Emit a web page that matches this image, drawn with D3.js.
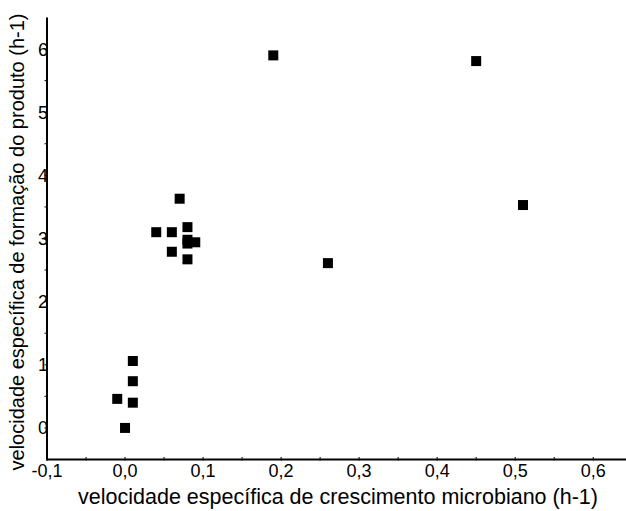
<!DOCTYPE html>
<html>
<head>
<meta charset="utf-8">
<script src="https://cdn.jsdelivr.net/npm/d3@7"></script>
<style>
  html, body { margin: 0; padding: 0; background: #fff; }
  svg { display: block; }
  text { font-family: "Liberation Sans", Arial, Helvetica, sans-serif; fill: #000; }
</style>
</head>
<body>
<svg id="chart" width="626" height="511"></svg>
<script>
// Specific growth rate (h-1) vs specific product formation rate (h-1)
const growthRate = [0.19, 0.45, 0.51, 0.26, 0.07, 0.04, 0.06, 0.08, 0.08, 0.09, 0.08, 0.06, 0.08, 0.01, 0.01, 0.01, -0.01, 0.00];
const productRate = [5.90, 5.81, 3.53, 2.61, 3.63, 3.10, 3.10, 3.18, 2.98, 2.94, 2.92, 2.79, 2.67, 1.06, 0.74, 0.40, 0.46, 0.00];

const xTicks = [-0.1, 0.0, 0.1, 0.2, 0.3, 0.4, 0.5, 0.6];
const xMinorTicks = [-0.05, 0.05, 0.15, 0.25, 0.35, 0.45, 0.55];
const yTicks = [0, 1, 2, 3, 4, 5, 6];
const yMinorTicks = [0.5, 1.5, 2.5, 3.5, 4.5, 5.5];

const xTitle = "velocidade específica de crescimento microbiano (h-1)";
const yTitle = "velocidade específica de formação do produto (h-1)";

const svg = d3.select("#chart");
const fmt = v => d3.format(".1f")(v).replace(".", ",").replace("−", "-");

const x = d3.scaleLinear().domain([-0.1, 0.642]).range([47, 626]);
const y = d3.scaleLinear().domain([-0.5, 6.5]).range([459.5, 17.5]);

const x0 = x.range()[0];
const y0 = y.range()[0];

// Small tick marks (major and half steps)
svg.append("g").selectAll("line").data(xMinorTicks.concat(xTicks)).join("line")
  .attr("x1", d => x(d)).attr("x2", d => x(d))
  .attr("y1", y0 - 2.5).attr("y2", y0 + 1)
  .attr("stroke", "#000").attr("stroke-width", 1);
svg.append("g").selectAll("line").data(yMinorTicks.concat(yTicks)).join("line")
  .attr("x1", x0 - 2.5).attr("x2", x0 + 1)
  .attr("y1", d => y(d)).attr("y2", d => y(d))
  .attr("stroke", "#000").attr("stroke-width", 1);

// Axis lines
svg.append("line").attr("x1", x0).attr("x2", x.range()[1])
  .attr("y1", y0).attr("y2", y0).attr("stroke", "#000").attr("stroke-width", 2);
svg.append("line").attr("x1", x0).attr("x2", x0)
  .attr("y1", y0 + 1).attr("y2", y.range()[1]).attr("stroke", "#000").attr("stroke-width", 2);

// Tick labels
svg.append("g").selectAll("text").data(xTicks).join("text")
  .attr("x", d => x(d)).attr("y", y0 + 17)
  .attr("text-anchor", "middle").attr("font-size", 18)
  .text(fmt);
svg.append("g").selectAll("text").data(yTicks).join("text")
  .attr("x", x0 + 1).attr("y", d => y(d) + 6.5)
  .attr("text-anchor", "end").attr("font-size", 18)
  .text(d => d);

// Axis titles
svg.append("text")
  .attr("x", 338).attr("y", 504)
  .attr("text-anchor", "middle").attr("font-size", 21.5)
  .text(xTitle);
svg.append("text")
  .attr("transform", "translate(24,242) rotate(-90)")
  .attr("text-anchor", "middle").attr("font-size", 20)
  .text(yTitle);

// Data points
const size = 10;
svg.append("g").selectAll("rect").data(growthRate.map((g, i) => [g, productRate[i]])).join("rect")
  .attr("x", d => x(d[0]) - size / 2)
  .attr("y", d => y(d[1]) - size / 2)
  .attr("width", size).attr("height", size)
  .attr("fill", "#000");
</script>
</body>
</html>
